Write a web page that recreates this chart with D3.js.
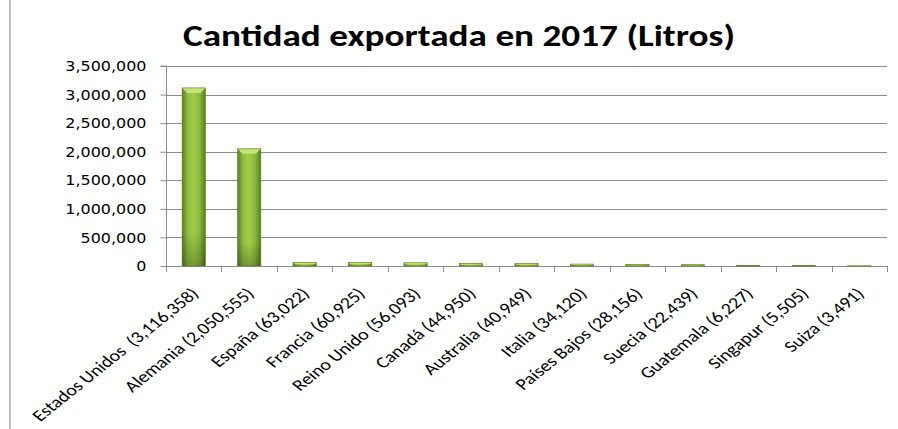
<!DOCTYPE html>
<html><head><meta charset="utf-8">
<script src="https://cdn.jsdelivr.net/npm/d3@7"></script>
<style>body{margin:0;background:#fff}svg{display:block}</style>
</head><body>
<svg id="c" width="898" height="429"></svg>
<script>
const categories = ["Estados Unidos  (3,116,358)","Alemania (2,050,555)","España (63,022)","Francia (60,925)","Reino Unido (56,093)","Canadá (44,950)","Australia (40,949)","Italia (34,120)","Países Bajos (28,156)","Suecia (22,439)","Guatemala (6,227)","Singapur (5,505)","Suiza (3,491)"];
const values = [3116358,2050555,63022,60925,56093,44950,40949,34120,28156,22439,6227,5505,3491];
const yTicks = [0,500000,1000000,1500000,2000000,2500000,3000000,3500000];
const title = "Cantidad exportada en 2017 (Litros)";

const svg = d3.select("#c");
const L = 166, R = 887, T = 66, B = 266;

const defs = svg.append("defs");
const g1 = defs.append("linearGradient").attr("id","bar").attr("x1",0).attr("x2",1).attr("y1",0).attr("y2",0);
[[0,"#5d7f22"],[0.25,"#92bf40"],[0.5,"#a0cd4c"],[0.75,"#8cb83d"],[1,"#5a7b20"]].forEach(s=>g1.append("stop").attr("offset",s[0]).attr("stop-color",s[1]));
const g2 = defs.append("linearGradient").attr("id","barv").attr("x1",0).attr("x2",0).attr("y1",0).attr("y2",1);
[[0,"#ffffff",0],[0.8,"#000000",0],[1,"#000000",0.25]].forEach(s=>g2.append("stop").attr("offset",s[0]).attr("stop-color",s[1]).attr("stop-opacity",s[2]));

// left border line
svg.append("line").attr("x1",10).attr("x2",10).attr("y1",0).attr("y2",429).attr("stroke","#a6a6a6").attr("stroke-width",1.5);

svg.append("text").attr("x",459).attr("y",46).attr("text-anchor","middle")
  .attr("font-family","Carlito, 'Liberation Sans Narrow', 'Open Sans', sans-serif").attr("font-weight","bold")
  .attr("font-size",30).attr("textLength",552).attr("lengthAdjust","spacingAndGlyphs").attr("fill","#000").text(title);

const x = d3.scaleBand().domain(categories).range([L,R]).paddingInner(0.58).paddingOuter(0.29);
const y = d3.scaleLinear().domain([0,3500000]).range([B,T]);

// gridlines
svg.append("g").selectAll("line").data(yTicks.slice(1)).join("line")
  .attr("x1",L).attr("x2",R).attr("y1",d=>Math.round(y(d))+0.5).attr("y2",d=>Math.round(y(d))+0.5)
  .attr("stroke","#8c8c8c").attr("stroke-width",1);

// y axis
const ya = svg.append("g").attr("transform",`translate(${L+0.5},0)`)
  .call(d3.axisLeft(y).tickValues(yTicks).tickSize(6).tickPadding(0).tickFormat(d3.format(",")));
ya.select(".domain").attr("stroke","#8c8c8c").attr("d",`M-6,${T}H0V${B}`);
ya.selectAll(".tick line").attr("stroke","#8c8c8c");
ya.selectAll(".tick text").attr("x",null).attr("dy",null)
  .attr("font-family","'DejaVu Sans', Verdana, sans-serif").attr("font-size",14).attr("fill","#000")
  .attr("dominant-baseline","central")
  .attr("transform","translate(-20,0) scale(1.14,1)");

// x axis
const xa = svg.append("g").attr("transform",`translate(0,${B+0.5})`)
  .call(d3.axisBottom(x).tickSize(0).tickFormat(d=>d));
xa.select(".domain").attr("stroke","#8c8c8c").attr("d",`M${L},0H${R}`);
const step = x.step();
svg.append("g").selectAll("line").data(d3.range(categories.length+1)).join("line")
  .attr("x1",i=>Math.round(L+i*step)+0.5).attr("x2",i=>Math.round(L+i*step)+0.5)
  .attr("y1",B).attr("y2",B+6).attr("stroke","#8c8c8c");
xa.selectAll(".tick text")
  .attr("font-family","Carlito, 'Liberation Sans', 'Open Sans', sans-serif").attr("font-size",16).attr("fill","#000")
  .style("white-space","pre")
  .attr("text-anchor","end").attr("y",null).attr("dy",null)
  .attr("transform","translate(6,28) scale(1.25,1) rotate(-45)");

// bars
const bars = svg.append("g").selectAll("g").data(values).join("g");
bars.append("rect").attr("x",(d,i)=>x(categories[i])).attr("width",x.bandwidth())
  .attr("y",d=>y(d)).attr("height",d=>B-y(d)).attr("fill","url(#bar)");
bars.append("rect").attr("x",(d,i)=>x(categories[i])).attr("width",x.bandwidth())
  .attr("y",d=>y(d)).attr("height",d=>B-y(d)).attr("fill","url(#barv)");
bars.append("path").attr("d",(d,i)=>{
  const x0=x(categories[i]), w=x.bandwidth(), t=y(d), h=Math.min(5,(B-t)/2);
  return `M${x0},${t}H${x0+w}L${x0+w-h},${t+h}H${x0+h}Z`;
}).attr("fill","#c3e67a");
bars.append("rect").attr("x",(d,i)=>x(categories[i])).attr("width",x.bandwidth())
  .attr("y",d=>y(d)).attr("height",d=>B-y(d)).attr("fill","none").attr("stroke","#5b7a22").attr("stroke-width",0.6);
</script>
</body></html>
